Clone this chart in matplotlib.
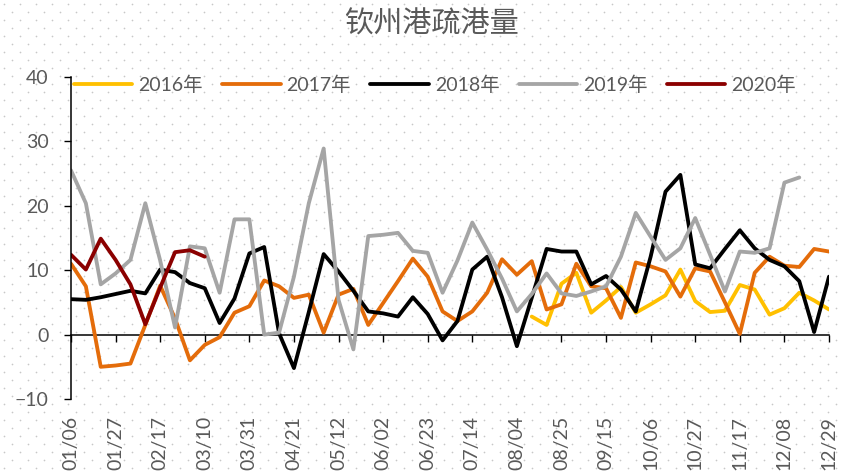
import numpy as np
import matplotlib
matplotlib.use("Agg")
import matplotlib.pyplot as plt


# Daten: 52 Wochen, Beschriftung alle 3 Wochen
wochen = list(range(52))
tick_pos = list(range(0, 52, 3))
tick_labels = ["01/06", "01/27", "02/17", "03/10", "03/31", "04/21", "05/12", "06/02", "06/23",
               "07/14", "08/04", "08/25", "09/15", "10/06", "10/27", "11/17", "12/08", "12/29"]

jahre = ["2016年", "2017年", "2018年", "2019年", "2020年"]
farben = ["#FFC000", "#E46C0A", "#000000", "#A5A5A5", "#8B0000"]

w2016 = [np.nan] * 31 + [2.8, 1.5, 7.9, 9.6, 3.4, 5.3, 7.4, 3.4, 4.7, 6.1, 10.1, 5.2, 3.5, 3.7,
                         7.7, 7.0, 3.1, 4.1, 6.5, 5.3, 3.9]
w2017 = [11.0, 7.5, -5.0, -4.8, -4.5, 1.5, 7.6, 2.5, -4.0, -1.6, -0.4, 3.4, 4.4, 8.4, 7.5, 5.7,
         6.2, 0.3, 6.2, 7.1, 1.5, 4.9, 8.3, 11.8, 9.0, 3.6, 2.1, 3.6, 6.5, 11.7, 9.3, 11.4, 3.9,
         4.7, 11.0, 7.5, 7.2, 2.6, 11.2, 10.6, 9.8, 5.9, 10.3, 9.8, 5.0, 0.1, 9.6, 12.1, 10.7,
         10.5, 13.3, 12.9]
w2018 = [5.5, 5.4, 5.8, 6.3, 6.8, 6.4, 10.1, 9.7, 8.0, 7.2, 1.8, 5.6, 12.6, 13.6, 0.2, -5.2,
         3.5, 12.5, 9.8, 6.8, 3.6, 3.3, 2.8, 5.8, 3.2, -0.9, 2.1, 10.1, 12.1, 5.8, -1.8, 5.7,
         13.3, 12.9, 12.9, 7.8, 9.1, 7.0, 3.6, 12.1, 22.2, 24.8, 10.9, 10.3, 13.3, 16.2, 13.4,
         11.6, 10.6, 8.3, 0.4, 9.0]
w2019 = [25.5, 20.4, 7.8, 9.5, 11.6, 20.4, 11.5, 1.1, 13.7, 13.4, 6.5, 17.9, 17.9, 0.0, 0.3,
         9.0, 20.4, 28.9, 5.4, -2.3, 15.3, 15.5, 15.8, 13.0, 12.7, 6.5, 11.5, 17.4, 13.2, 8.7,
         3.6, 6.3, 9.5, 6.4, 6.0, 6.7, 7.5, 12.1, 18.9, 15.2, 11.6, 13.4, 18.1, 12.4, 6.7, 12.9,
         12.7, 13.4, 23.6, 24.4] + [np.nan] * 2
w2020 = [12.4, 10.1, 14.9, 11.6, 7.8, 1.6, 7.3, 12.8, 13.1, 12.1] + [np.nan] * 42

reihen = [w2016, w2017, w2018, w2019, w2020]

grau = "#595959"
plt.rcParams["font.family"] = ["Lato", "Noto Sans CJK SC", "DejaVu Sans"]

# Diagrammgröße
fig = plt.figure(figsize=(8.41, 4.74), dpi=100)

# gepunkteter Hintergrund
bg = fig.add_axes([0, 0, 1, 1], zorder=-1)
bg.set_xlim(0, 841)
bg.set_ylim(474, 0)
bg.axis("off")
gx, gy = np.meshgrid(np.arange(4, 841, 16), np.arange(4, 474, 8))
gx = gx + (np.arange(gy.shape[0]) % 2 * 8)[:, None]
bg.scatter(gx.ravel(), gy.ravel(), s=1.5, color="#C8C8C8", linewidths=0)

ax = fig.add_axes([71 / 841, 1 - 399 / 474, 758 / 841, 322 / 474])
ax.set_facecolor("none")

# Daten plotten
for werte, name, farbe in zip(reihen, jahre, farben):
    ax.plot(wochen, werte, color=farbe, lw=2.75, label=name,
            solid_joinstyle="round", solid_capstyle="round")

ax.set_xlim(0, 51)
ax.set_ylim(-10, 40)

# y-Achse
ax.set_yticks([-10, 0, 10, 20, 30, 40])
ax.tick_params(axis="y", direction="out", length=5, width=1, color="black",
               labelsize=14, labelcolor=grau, pad=11)
for s in ["top", "right", "bottom"]:
    ax.spines[s].set_visible(False)
ax.spines["left"].set_linewidth(1.1)

# x-Beschriftung unten
ax.set_xticks(tick_pos)
ax.set_xticklabels(tick_labels, rotation=90)
ax.tick_params(axis="x", length=0, labelsize=14, labelcolor=grau, pad=12)

# x-Achse bei 0
sec = ax.secondary_xaxis(0.2)
sec.set_xticks(tick_pos)
sec.tick_params(axis="x", direction="out", length=5, width=1, color="black", labelbottom=False)
sec.spines["bottom"].set_linewidth(1.1)

# Titel & Legende
fig.text(431 / 841, 1 - 24 / 474, "钦州港疏港量", ha="center", va="center", fontsize=21, color=grau)
leg = ax.legend(loc="center", bbox_to_anchor=(435 / 841, 1 - 85 / 474), bbox_transform=fig.transFigure,
                ncol=5, frameon=False, fontsize=14, handlelength=3.0, handletextpad=0.3,
                columnspacing=1.0)
for t in leg.get_texts():
    t.set_color(grau)

fig.savefig("out.png", dpi=100)
